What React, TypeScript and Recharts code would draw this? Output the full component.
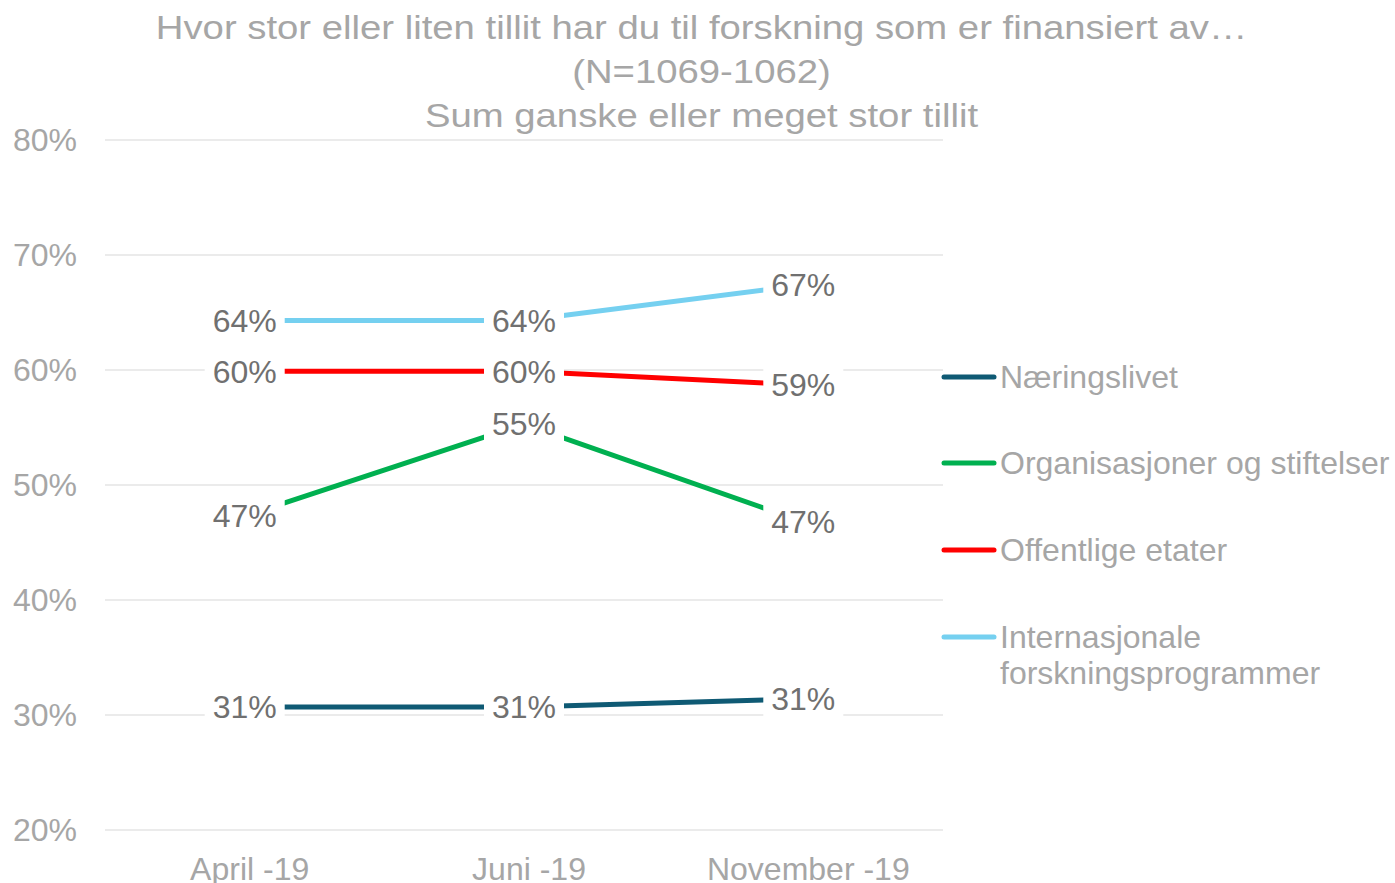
import { CartesianGrid, LabelList, Legend, Line, LineChart, XAxis, YAxis } from "recharts"

const months = ["April -19", "Juni -19", "November -19"]
const naeringslivet = [30.7, 30.7, 31.4]
const organisasjoner = [47.3, 55.3, 46.8]
const offentlige = [59.9, 59.9, 58.7]
const internasjonale = [64.3, 64.3, 67.4]
const yTicks = [20, 30, 40, 50, 60, 70, 80]

const titleLines = [
  "Hvor stor eller liten tillit har du til forskning som er finansiert av…",
  "(N=1069-1062)",
  "Sum ganske eller meget stor tillit",
]

const series = [
  { key: "naeringslivet", name: ["Næringslivet"], color: "#0f5a74" },
  { key: "organisasjoner", name: ["Organisasjoner og stiftelser"], color: "#00b050" },
  { key: "offentlige", name: ["Offentlige etater"], color: "#ff0000" },
  { key: "internasjonale", name: ["Internasjonale", "forskningsprogrammer"], color: "#75d0f0" },
]

const data = months.map((month, i) => ({
  month,
  naeringslivet: naeringslivet[i],
  organisasjoner: organisasjoner[i],
  offentlige: offentlige[i],
  internasjonale: internasjonale[i],
}))

const grey = "#a6a6a6"
const legendCenters = [377, 463, 550, 637]

// value label with a white box behind it, like the Excel original
function BoxLabel(props: any) {
  const { x, y, value } = props
  return (
    <g>
      <rect x={x - 40} y={y - 21} width={80} height={42} fill="#ffffff" />
      <text x={x} y={y} dy="0.355em" textAnchor="middle" fontSize={32} fill="#707070">
        {Math.round(value)}%
      </text>
    </g>
  )
}

function LegendBox() {
  return (
    <div style={{ position: "relative", width: 455, height: 360 }}>
      {series.map((s, i) => (
        <div
          key={s.key}
          style={{
            position: "absolute",
            left: 0,
            top: legendCenters[i] - 18,
            display: "flex",
            alignItems: "flex-start",
          }}
        >
          <svg width={60} height={36} style={{ flex: "none" }}>
            <line x1={4} x2={54} y1={18} y2={18} stroke={s.color} strokeWidth={5} strokeLinecap="round" />
          </svg>
          <div style={{ fontSize: 32, lineHeight: "36px", color: grey, whiteSpace: "nowrap" }}>
            {s.name.map((n) => (
              <div key={n}>{n}</div>
            ))}
          </div>
        </div>
      ))}
    </div>
  )
}

export default function App() {
  return (
    <div
      style={{
        position: "absolute",
        left: 0,
        top: 0,
        width: 1395,
        height: 883,
        background: "#ffffff",
        fontFamily: "'Liberation Sans', Arial, sans-serif",
      }}
    >
      <div
        style={{
          position: "absolute",
          left: 0,
          top: 6,
          width: 1403,
          textAlign: "center",
          fontSize: 33,
          lineHeight: "44px",
          color: grey,
          transform: "scaleX(1.16)",
          transformOrigin: "701.5px 0",
          zIndex: 1,
        }}
      >
        {titleLines.map((t) => (
          <div key={t}>{t}</div>
        ))}
      </div>
      <LineChart width={1395} height={883} data={data} margin={{ top: 140, right: 452, bottom: 0, left: 0 }}>
        <CartesianGrid vertical={false} stroke="#e5e5e5" strokeWidth={1.5} />
        <XAxis
          dataKey="month"
          height={53}
          padding={{ left: 139.7, right: 139.7 }}
          axisLine={false}
          tickLine={false}
          tickSize={0}
          tickMargin={27}
          tick={{ fill: grey, fontSize: 32, dx: 5 }}
        />
        <YAxis
          width={105}
          domain={[20, 80]}
          ticks={yTicks}
          axisLine={false}
          tickLine={false}
          tickSize={0}
          tickMargin={28}
          tick={{ fill: grey, fontSize: 32 }}
          tickFormatter={(v) => `${v}%`}
        />
        <Legend
          layout="vertical"
          align="center"
          verticalAlign="middle"
          wrapperStyle={{ left: 940, top: 0, width: 455 }}
          content={() => <LegendBox />}
        />
        {series.map((s) => (
          <Line
            key={s.key}
            type="linear"
            dataKey={s.key}
            stroke={s.color}
            strokeWidth={5}
            dot={false}
            activeDot={false}
            isAnimationActive={false}
          >
            <LabelList dataKey={s.key} content={<BoxLabel />} />
          </Line>
        ))}
      </LineChart>
    </div>
  )
}
